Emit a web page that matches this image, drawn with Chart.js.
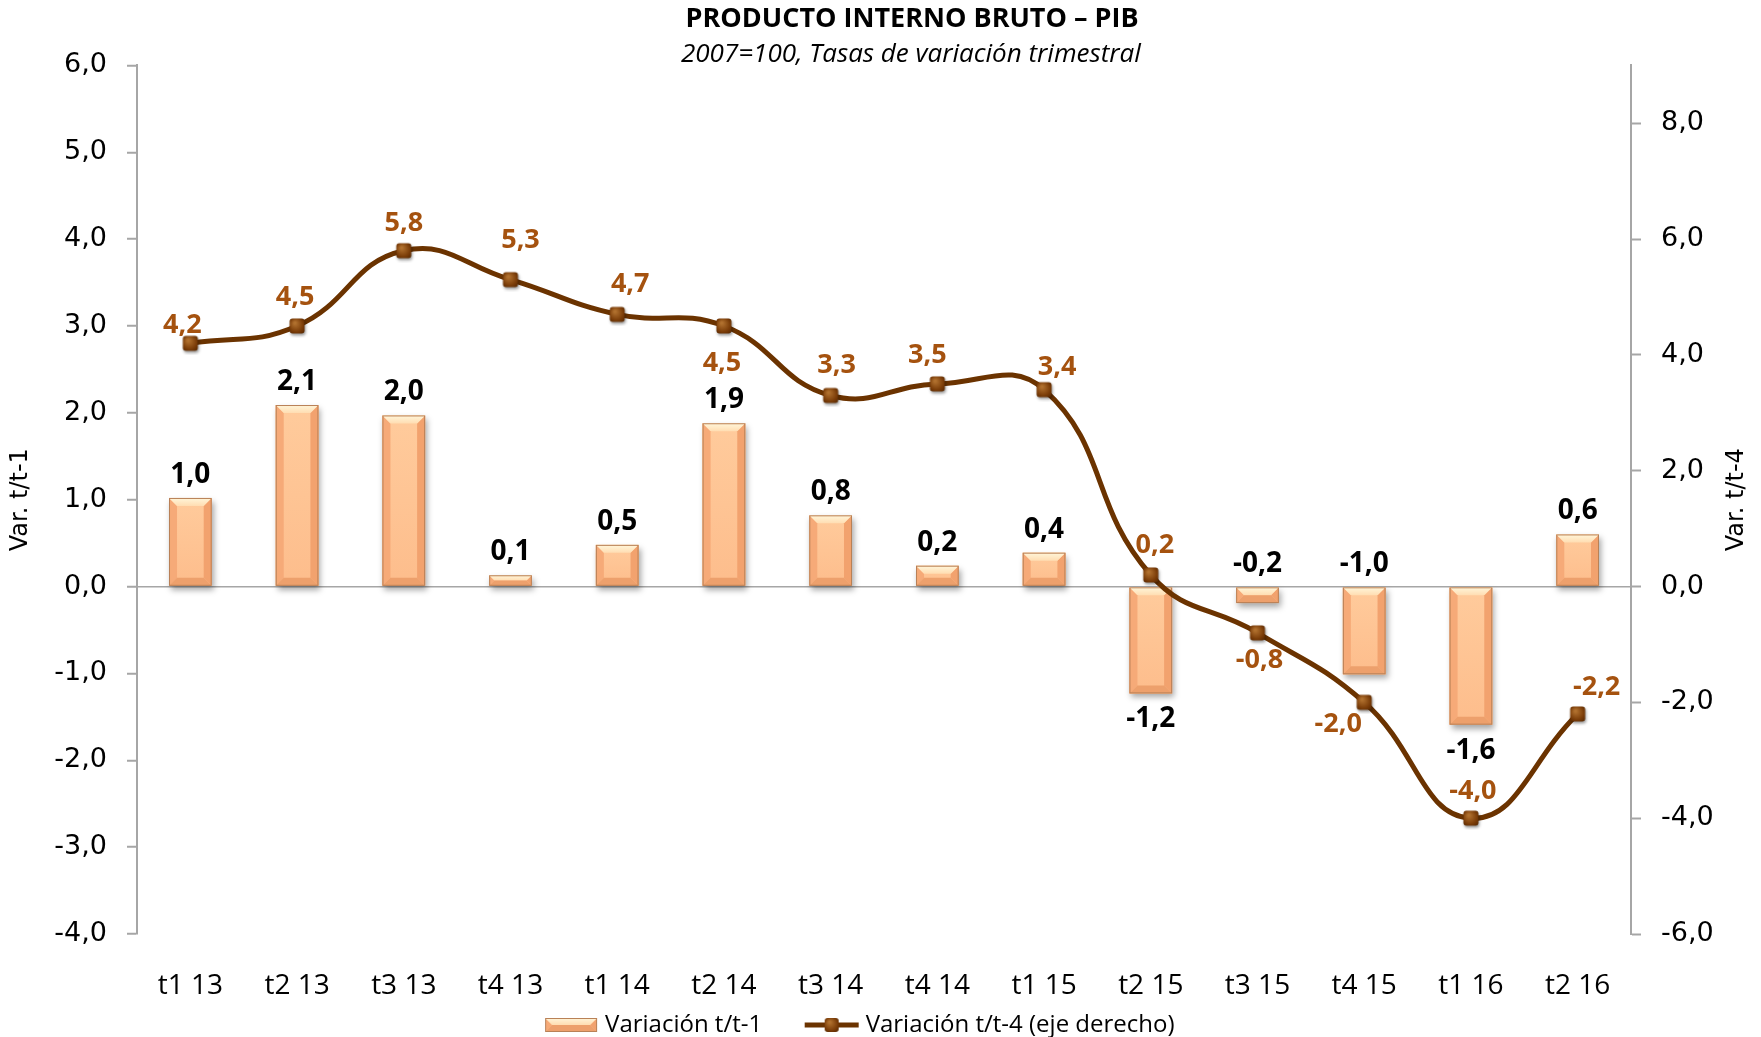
<!DOCTYPE html>
<html>
<head>
<meta charset="utf-8">
<script src="https://cdn.jsdelivr.net/npm/chart.js@4.4.0/dist/chart.umd.min.js"></script>
<style>
  body { margin: 0; background: #fff; }
  #wrap { width: 1761px; height: 1037px; }
</style>
</head>
<body>
<div id="wrap"><canvas id="pib"></canvas></div>
<script>
// datos
var trimestres = ['t1 13', 't2 13', 't3 13', 't4 13', 't1 14', 't2 14', 't3 14',
                  't4 14', 't1 15', 't2 15', 't3 15', 't4 15', 't1 16', 't2 16'];
var varTrimestral = [1.02, 2.09, 1.97, 0.13, 0.48, 1.88, 0.82, 0.24, 0.39, -1.23, -0.19, -1.01, -1.59, 0.60];
var varAnual = [4.2, 4.5, 5.8, 5.3, 4.7, 4.5, 3.3, 3.5, 3.4, 0.2, -0.8, -2.0, -4.0, -2.2];
var ticksIzq = [-4, -3, -2, -1, 0, 1, 2, 3, 4, 5, 6];
var ticksDer = [-6, -4, -2, 0, 2, 4, 6, 8];

// donde va la etiqueta de cada barra
var ladoBarra = ['arriba', 'arriba', 'arriba', 'arriba', 'arriba', 'arriba', 'arriba',
                 'arriba', 'arriba', 'abajo', 'arriba', 'arriba', 'abajo', 'arriba'];
// desplazamiento de las etiquetas de la linea respecto al punto
var despLinea = [[-8, -18], [-2, -29], [0, -27], [10, -39], [13, -30], [-2, 37], [6, -30],
                 [-10, -29], [13, -22], [4, -30], [2, 27], [-26, 22], [2, -27], [19, -27]];

var colorLinea = '#6B3300';
var colorEtiqLinea = '#A5520F';
var esp = '\u00a0';

function fmt(v) { return Number(v).toFixed(1).replace('.', ','); }

// barra con bisel, estilo excel
function pintarBarra(ctx, l, t, w, h, sombra) {
  var b = Math.min(8, h / 2, w / 4);
  ctx.save();
  if (sombra) {
    ctx.shadowColor = 'rgba(0,0,0,0.35)';
    ctx.shadowBlur = 6;
    ctx.shadowOffsetX = 2;
    ctx.shadowOffsetY = 4;
  }
  ctx.fillStyle = '#FCC08F';
  ctx.fillRect(l, t, w, h);
  ctx.restore();

  ctx.save();
  var g = ctx.createLinearGradient(0, t, 0, t + h);
  g.addColorStop(0, '#FFCB9C');
  g.addColorStop(1, '#FDBD8C');
  ctx.fillStyle = g;
  ctx.fillRect(l, t, w, h);
  // lados
  ctx.fillStyle = '#F6AA78';
  ctx.beginPath();
  ctx.moveTo(l, t); ctx.lineTo(l + b, t + b); ctx.lineTo(l + b, t + h - b); ctx.lineTo(l, t + h);
  ctx.closePath(); ctx.fill();
  ctx.fillStyle = '#F2A26E';
  ctx.beginPath();
  ctx.moveTo(l + w, t); ctx.lineTo(l + w - b, t + b); ctx.lineTo(l + w - b, t + h - b); ctx.lineTo(l + w, t + h);
  ctx.closePath(); ctx.fill();
  // arriba
  var gt = ctx.createLinearGradient(0, t, 0, t + b);
  gt.addColorStop(0, '#FFF6DA');
  gt.addColorStop(1, '#FFDDB2');
  ctx.fillStyle = gt;
  ctx.beginPath();
  ctx.moveTo(l, t); ctx.lineTo(l + w, t); ctx.lineTo(l + w - b, t + b); ctx.lineTo(l + b, t + b);
  ctx.closePath(); ctx.fill();
  // abajo
  ctx.fillStyle = '#EDA06C';
  ctx.beginPath();
  ctx.moveTo(l, t + h); ctx.lineTo(l + w, t + h); ctx.lineTo(l + w - b, t + h - b); ctx.lineTo(l + b, t + h - b);
  ctx.closePath(); ctx.fill();
  ctx.strokeStyle = '#B98157';
  ctx.lineWidth = 1;
  ctx.strokeRect(l + 0.5, t + 0.5, w - 1, h - 1);
  ctx.restore();
}

function pintarMarcador(ctx, cx, cy, s) {
  var g = ctx.createRadialGradient(cx - s * 0.15, cy - s * 0.2, 1, cx, cy, s * 0.75);
  g.addColorStop(0, '#B0702E');
  g.addColorStop(0.6, '#7A3C08');
  g.addColorStop(1, '#4A2200');
  ctx.fillStyle = g;
  ctx.beginPath();
  if (ctx.roundRect) ctx.roundRect(cx - s / 2, cy - s / 2, s, s, 3);
  else ctx.rect(cx - s / 2, cy - s / 2, s, s);
  ctx.fill();
}

var marcador = document.createElement('canvas');
marcador.width = 24; marcador.height = 24;
(function () {
  var c = marcador.getContext('2d');
  c.save();
  c.shadowColor = 'rgba(0,0,0,0.4)';
  c.shadowBlur = 3;
  c.shadowOffsetX = 1;
  c.shadowOffsetY = 2;
  pintarMarcador(c, 12, 12, 15);
  c.restore();
})();

var muestraBarra = document.createElement('canvas');
muestraBarra.width = 54; muestraBarra.height = 16;
pintarBarra(muestraBarra.getContext('2d'), 1, 1, 52, 14, false);

var muestraLinea = document.createElement('canvas');
muestraLinea.width = 56; muestraLinea.height = 18;
(function () {
  var c = muestraLinea.getContext('2d');
  c.strokeStyle = colorLinea;
  c.lineWidth = 5;
  c.beginPath(); c.moveTo(1, 9); c.lineTo(55, 9); c.stroke();
  pintarMarcador(c, 28, 9, 14);
})();

var biselBarras = {
  id: 'biselBarras',
  afterDatasetDraw: function (chart, args) {
    if (args.index !== 0) return;
    var ctx = chart.ctx;
    args.meta.data.forEach(function (el) {
      var p = el.getProps(['x', 'y', 'base', 'width'], true);
      var top = Math.min(p.y, p.base);
      var h = Math.abs(p.base - p.y);
      pintarBarra(ctx, p.x - p.width / 2, top, p.width, h, true);
    });
  }
};

var etiquetas = {
  id: 'etiquetas',
  afterDatasetsDraw: function (chart) {
    var ctx = chart.ctx;
    ctx.save();
    ctx.textAlign = 'center';
    ctx.textBaseline = 'middle';
    ctx.font = 'bold 28px "Open Sans"';
    ctx.fillStyle = '#000';
    chart.getDatasetMeta(0).data.forEach(function (el, i) {
      var p = el.getProps(['x', 'y', 'base'], true);
      var y = ladoBarra[i] === 'abajo' ? Math.max(p.y, p.base) + 26 : Math.min(p.y, p.base) - 23;
      ctx.fillText(fmt(varTrimestral[i]), p.x, y);
    });
    ctx.font = 'bold 27px "Open Sans"';
    ctx.fillStyle = colorEtiqLinea;
    chart.getDatasetMeta(1).data.forEach(function (el, i) {
      var p = el.getProps(['x', 'y'], true);
      ctx.fillText(fmt(varAnual[i]), p.x + despLinea[i][0], p.y + despLinea[i][1]);
    });
    ctx.restore();
  }
};

// titulo del eje derecho, leido de abajo hacia arriba como en excel
var tituloDerecho = {
  id: 'tituloDerecho',
  afterDraw: function (chart) {
    var s = chart.scales.y2, ca = chart.chartArea, ctx = chart.ctx;
    ctx.save();
    ctx.translate(s.right - 22, (ca.top + ca.bottom) / 2);
    ctx.rotate(-Math.PI / 2);
    ctx.font = '24px "DejaVu Sans"';
    ctx.fillStyle = '#000';
    ctx.textAlign = 'center';
    ctx.textBaseline = 'middle';
    ctx.fillText('Var. t/t-4', 0, 0);
    ctx.restore();
  }
};

var gris = '#A6A6A6';

new Chart(document.getElementById('pib'), {
  type: 'bar',
  data: {
    labels: trimestres,
    datasets: [
      {
        label: 'Variación t/t-1',
        data: varTrimestral,
        yAxisID: 'y',
        order: 1,
        backgroundColor: 'rgba(0,0,0,0)',
        borderWidth: 0,
        barPercentage: 0.4,
        categoryPercentage: 1
      },
      {
        type: 'line',
        label: 'Variación t/t-4 (eje derecho)',
        data: varAnual,
        yAxisID: 'y2',
        order: 0,
        borderColor: colorLinea,
        borderWidth: 5,
        tension: 0.45,
        fill: false,
        pointStyle: marcador,
        pointRadius: 8
      }
    ]
  },
  options: {
    responsive: true,
    maintainAspectRatio: false,
    animation: false,
    layout: { padding: { left: 2, right: 2, top: 0, bottom: -10 } },
    plugins: {
      title: {
        display: true,
        text: esp.repeat(9) + 'PRODUCTO INTERNO BRUTO – PIB',
        color: '#000',
        font: { family: 'Open Sans', size: 27, weight: 'bold', lineHeight: 1 },
        padding: { top: 6, bottom: 0 }
      },
      subtitle: {
        display: true,
        text: esp.repeat(9) + '2007=100, Tasas de variación trimestral',
        color: '#000',
        font: { family: 'Open Sans', size: 26, style: 'italic', lineHeight: 0.8 },
        padding: { top: 11.6, bottom: 0 }
      },
      legend: {
        position: 'bottom',
        labels: {
          usePointStyle: true,
          pointStyleWidth: 44,
          boxHeight: 14,
          padding: 10,
          color: '#000',
          font: { family: 'Open Sans', size: 24 },
          generateLabels: function () {
            return [
              { text: 'Variación t/t-1' + esp.repeat(6), pointStyle: muestraBarra,
                fillStyle: '#fff', strokeStyle: '#fff', lineWidth: 0, fontColor: '#000', datasetIndex: 0, hidden: false },
              { text: 'Variación t/t-4 (eje derecho)' + esp.repeat(6), pointStyle: muestraLinea,
                fillStyle: '#fff', strokeStyle: '#fff', lineWidth: 0, fontColor: '#000', datasetIndex: 1, hidden: false }
            ];
          }
        }
      },
      tooltip: { enabled: false }
    },
    scales: {
      x: {
        grid: { display: false, drawTicks: false },
        border: { display: false },
        ticks: { color: '#000', font: { family: 'Open Sans', size: 28 }, padding: 35, maxRotation: 0 },
        afterFit: function (s) { s.height = 69; }
      },
      y: {
        position: 'left',
        min: -4,
        max: 6,
        afterBuildTicks: function (s) { s.ticks = ticksIzq.map(function (v) { return { value: v }; }); },
        afterFit: function (s) { s.width = 135; },
        ticks: { callback: fmt, color: '#000', font: { family: 'DejaVu Sans', size: 27 }, padding: 20 },
        grid: {
          color: function (c) { return c.tick && c.tick.value === 0 ? gris : 'rgba(0,0,0,0)'; },
          lineWidth: 1.5,
          tickColor: gris,
          tickWidth: 2,
          tickLength: 10
        },
        border: { color: gris, width: 2 },
        title: {
          display: true, text: 'Var. t/t-1', color: '#000',
          font: { family: 'DejaVu Sans', size: 24 },
          padding: { top: 4, bottom: 0 }
        }
      },
      y2: {
        position: 'right',
        min: -6,
        max: 9,
        afterBuildTicks: function (s) { s.ticks = ticksDer.map(function (v) { return { value: v }; }); },
        afterFit: function (s) { s.width = 128; },
        ticks: { callback: fmt, color: '#000', font: { family: 'DejaVu Sans', size: 27 }, padding: 20 },
        grid: { drawOnChartArea: false, tickColor: gris, tickWidth: 2, tickLength: 10 },
        border: { color: gris, width: 2 },
        title: { display: false }
      }
    }
  },
  plugins: [biselBarras, etiquetas, tituloDerecho]
});
</script>
</body>
</html>
